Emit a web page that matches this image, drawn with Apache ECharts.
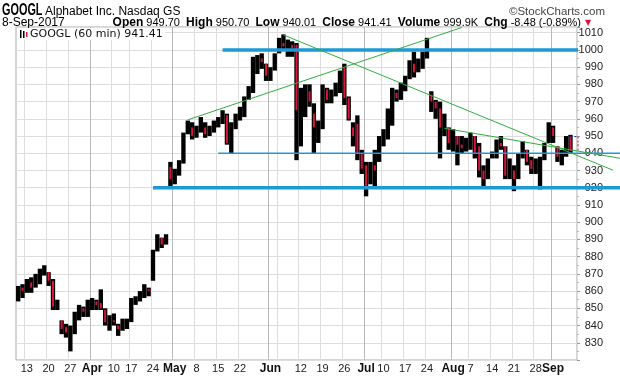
<!DOCTYPE html>
<html>
<head>
<meta charset="utf-8">
<script src="https://cdn.jsdelivr.net/npm/echarts@6/dist/echarts.min.js"></script>
<style>
html, body { margin: 0; padding: 0; background: #fff; }
#main { width: 620px; height: 376px; }
</style>
</head>
<body>
<div id="main"></div>
<script>
// trading days shown (one bar per day)
var dates = [
  '3/9','3/10','3/13','3/14','3/15','3/16','3/17','3/20','3/21','3/22','3/23','3/24','3/27','3/28','3/29','3/30','3/31',
  '4/3','4/4','4/5','4/6','4/7','4/10','4/11','4/12','4/13','4/17','4/18','4/19','4/20','4/21','4/24','4/25','4/26','4/27','4/28',
  '5/1','5/2','5/3','5/4','5/5','5/8','5/9','5/10','5/11','5/12','5/15','5/16','5/17','5/18','5/19','5/22','5/23','5/24','5/25','5/26','5/30','5/31',
  '6/1','6/2','6/5','6/6','6/7','6/8','6/9','6/12','6/13','6/14','6/15','6/16','6/19','6/20','6/21','6/22','6/23','6/26','6/27','6/28','6/29','6/30',
  '7/3','7/5','7/6','7/7','7/10','7/11','7/12','7/13','7/14','7/17','7/18','7/19','7/20','7/21','7/24','7/25','7/26','7/27','7/28','7/31',
  '8/1','8/2','8/3','8/4','8/7','8/8','8/9','8/10','8/11','8/14','8/15','8/16','8/17','8/18','8/21','8/22','8/23','8/24','8/25','8/28','8/29','8/30','8/31',
  '9/1','9/5','9/6','9/7','9/8'
];

var opens = [
  855, 862, 860, 865, 862, 868, 871, 871, 866, 851,
  843, 839, 834, 837, 846, 850, 848, 852, 854, 853,
  849, 842, 843, 840, 838, 840, 843, 855, 856, 858,
  861, 868, 883, 891, 887, 932, 925, 929, 934, 952,
  955, 950, 954, 955, 951, 954, 957, 959, 962, 945,
  955, 961, 965, 971, 978, 994, 995, 992, 985, 988,
  999, 1004, 1002, 1003, 1003, 950, 968, 976, 963, 955,
  957, 977, 971, 975, 978, 990, 972, 955, 957, 940,
  933, 922, 933, 935, 948, 952, 963, 975, 972, 979,
  983, 992, 987, 993, 996, 974, 970, 966, 952, 955,
  946, 950, 945, 943, 946, 950, 944, 930, 925, 937,
  940, 946, 944, 928, 930, 926, 938, 942, 936, 931,
  925, 936, 946, 955, 944, 938, 940, 949.70
];
var highs = [
  863, 864, 867, 868, 870, 873, 875, 871, 867, 855,
  843, 841, 840, 848, 852, 851, 855, 856, 855, 861,
  850, 846, 847, 841, 844, 844, 856, 857, 860, 864,
  862, 884, 893, 891, 893, 935, 931, 936, 952, 959,
  958, 956, 961, 958, 956, 959, 961, 965, 963, 958,
  963, 967, 973, 979, 996, 997, 998, 992, 990, 998,
  1007, 1009, 1006, 1005, 1004, 978, 980, 980, 969, 959,
  980, 978, 977, 981, 988, 992, 973, 958, 962, 942,
  935, 935, 942, 950, 954, 966, 978, 977, 981, 985,
  994, 999, 995, 999, 1007, 976, 971, 970, 963, 955,
  954, 950, 950, 949, 952, 950, 946, 933, 937, 941,
  948, 950, 944, 937, 933, 940, 947, 942, 938, 937,
  938, 946, 958, 956, 944, 942, 950, 950.70
];
var lows = [
  854, 856, 859, 859, 862, 864, 869, 863, 849, 849,
  835, 833, 825, 835, 843, 845, 845, 849, 849, 849,
  840, 837, 840, 834, 837, 838, 842, 852, 854, 856,
  857, 866, 883, 885, 887, 921, 922, 927, 934, 951,
  948, 949, 952, 949, 950, 952, 955, 957, 945, 940,
  954, 959, 961, 971, 975, 986, 989, 982, 982, 988,
  998, 1000, 996, 996, 936, 944, 961, 967, 940, 946,
  954, 969, 969, 973, 975, 968, 959, 944, 936, 928,
  915, 922, 921, 935, 944, 948, 956, 970, 971, 976,
  983, 984, 987, 989, 995, 964, 960, 937, 950, 942,
  941, 933, 940, 941, 942, 937, 926, 921, 925, 937,
  937, 942, 925, 925, 918, 925, 937, 933, 928, 928,
  919, 936, 946, 946, 935, 933, 938, 940.01
];
var closes = [
  861, 860, 865, 862, 868, 871, 872, 866, 851, 852,
  838, 836, 838, 846, 850, 848, 852, 853, 852, 850,
  842, 843, 842, 838, 840, 842, 855, 856, 858, 862,
  860, 882, 891, 887, 891, 925, 929, 934, 950, 955,
  950, 954, 955, 951, 954, 957, 959, 962, 946, 955,
  961, 965, 970, 978, 994, 995, 993, 985, 988, 997,
  1004, 1002, 1003, 1001, 965, 968, 976, 970, 955, 957,
  977, 971, 975, 978, 986, 972, 960, 950, 940, 931,
  920, 933, 930, 948, 952, 963, 975, 972, 979, 983,
  992, 987, 993, 996, 999, 970, 966, 955, 958, 946,
  950, 945, 943, 946, 950, 940, 930, 925, 935, 940,
  946, 944, 927, 930, 925, 938, 942, 935, 931, 933,
  936, 945, 955, 950, 938, 940, 949.89, 941.41
];
var lastVolume = '999.9K';

// x axis labels
var tickDates  = ['3/13','3/20','3/27','4/3','4/10','4/17','4/24','5/1','5/8','5/15','5/22','6/1','6/12','6/19','6/26','7/3','7/10','7/17','7/24','8/1','8/7','8/14','8/21','8/28','9/1'];
var tickLabels = ['13','20','27','Apr','10','17','24','May','8','15','22','Jun','12','19','26','Jul','10','17','24','Aug','7','14','21','28','Sep'];
var extraGridDates = ['6/5'];
var monthNames = ['Apr','May','Jun','Jul','Aug','Sep'];

// drawn annotations: [date, price]
var trendUp    = [['5/4', 959.4], ['8/3', 1013]];
var trendDown  = [['6/6', 1008.7], ['9/8', 940.3]];
var trendFlat  = [['7/28', 954.5], ['9/8', 942]];
var resistance = ['5/16', 1000];
var support    = ['4/24', 920];
var midLevel   = ['5/15', 940];

var tickMap = {};
tickDates.forEach(function (d, i) { tickMap[d] = tickLabels[i]; });
var gridSet = {};
var gridDates = tickDates.concat(extraGridDates).sort(function (a, b) { return dates.indexOf(a) - dates.indexOf(b); });
gridDates.forEach(function (d) { gridSet[d] = true; });
var gridColors = gridDates.map(function (d) {
  return monthNames.indexOf(tickMap[d]) >= 0 ? '#b9b9b9' : '#dedede';
});

var barData = dates.map(function (d, i) {
  return [i, opens[i], closes[i], lows[i], highs[i]];
});

var UP = '#000000', DOWN = '#dc143c', LINE_BLUE = '#1c9ad6', LINE_GREEN = '#2fae3f';

function renderBar(params, api) {
  var k = api.value(0), o = api.value(1), c = api.value(2), l = api.value(3), h = api.value(4);
  var top = api.coord([k, h]), bot = api.coord([k, l]);
  var band = api.size([1, 0])[0];
  var w = band;
  var kids = [{
    type: 'rect',
    shape: { x: top[0] - w / 2, y: top[1], width: w, height: Math.max(1, bot[1] - top[1]) },
    style: { fill: UP }
  }];
  if (c < o) {
    var po = api.coord([k, o]), pc = api.coord([k, c]);
    var rw = band * 0.45;
    kids.push({
      type: 'rect',
      shape: { x: po[0] - rw / 2, y: po[1], width: rw, height: Math.max(1, pc[1] - po[1]) },
      style: { fill: DOWN }
    });
  }
  return { type: 'group', children: kids };
}

var chart = echarts.init(document.getElementById('main'));

var option = {
  animation: false,
  grid: { left: 16, right: 43, top: 27, bottom: 16, show: true, borderColor: '#a8a8a8', borderWidth: 1 },
  xAxis: {
    type: 'category',
    data: dates.concat(['']),
    boundaryGap: true,
    axisLine: { show: false },
    axisTick: { show: false },
    axisLabel: {
      interval: function (i, v) { return tickMap[v] !== undefined; },
      formatter: function (v) {
        var t = tickMap[v];
        return monthNames.indexOf(t) >= 0 ? '{m|' + t + '}' : t;
      },
      margin: 3,
      color: '#222',
      fontSize: 11,
      fontFamily: 'Liberation Sans',
      rich: { m: { fontWeight: 'bold', fontSize: 12, fontFamily: 'Liberation Sans', color: '#111' } }
    },
    splitLine: {
      show: true,
      interval: function (i, v) { return !!gridSet[v]; },
      lineStyle: { color: gridColors, width: 1 }
    }
  },
  yAxis: {
    type: 'value',
    position: 'right',
    min: 820,
    max: 1013.3,
    interval: 10,
    axisLine: { show: false },
    axisTick: { show: true, length: 3, lineStyle: { color: '#999' } },
    minorTick: { show: true, splitNumber: 2, length: 2, lineStyle: { color: '#bbb' } },
    axisLabel: {
      showMinLabel: false,
      showMaxLabel: false,
      align: 'right',
      margin: 26,
      color: '#222',
      fontSize: 11,
      fontFamily: 'Liberation Sans',
      formatter: function (v) { return String(Math.round(v)); }
    },
    splitLine: { lineStyle: { color: '#dedede' } }
  },
  series: [{
    type: 'custom',
    renderItem: renderBar,
    encode: { x: 0, y: [1, 2, 3, 4] },
    data: barData,
    clip: true,
    z: 2
  }]
};
chart.setOption(option);

// ---- annotations and header, placed through the chart's own scales ----
function px(p) { return chart.convertToPixel({ gridIndex: 0 }, p); }
var plotRight = chart.getWidth() - 43;
var plotLeft = 16;
var W = chart.getWidth();

function segment(a, b, xEnd) {
  var p1 = px(a), p2 = px(b);
  if (xEnd != null) {
    var t = (xEnd - p1[0]) / (p2[0] - p1[0]);
    p2 = [xEnd, p1[1] + t * (p2[1] - p1[1])];
  }
  return { x1: p1[0], y1: p1[1], x2: p2[0], y2: p2[1] };
}
function hLine(start, xEnd, width) {
  var p = px(start);
  return {
    type: 'line', z: 100,
    shape: { x1: p[0], y1: p[1], x2: xEnd, y2: p[1] },
    style: { stroke: LINE_BLUE, lineWidth: width }
  };
}
function gLine(seg) {
  return { type: 'line', z: 101, shape: seg, style: { stroke: LINE_GREEN, lineWidth: 1 } };
}

var n = dates.length;
var lastO = opens[n - 1], lastH = highs[n - 1], lastL = lows[n - 1], lastC = closes[n - 1];
var prevC = closes[n - 2];
var chg = lastC - prevC;
var pct = chg / prevC * 100;
var pOpen = px([dates[n - 1], lastO]), pClose = px([dates[n - 1], lastC]);

var headerText =
  '{b|Open} ' + lastO.toFixed(2) + '  {b|High} ' + lastH.toFixed(2) +
  '  {b|Low} ' + lastL.toFixed(2) + '  {b|Close} ' + lastC.toFixed(2) +
  '  {b|Volume} ' + lastVolume + '  {b|Chg} ' + chg.toFixed(2) + ' (' + pct.toFixed(2) + '%)';

chart.setOption({
  graphic: [
    hLine(resistance, plotRight + 1, 3.5),
    hLine(support, W, 3.5),
    hLine(midLevel, W, 1.5),
    gLine(segment(trendUp[0], trendUp[1])),
    gLine(segment(trendDown[0], trendDown[1], 613)),
    gLine(segment(trendFlat[0], trendFlat[1], 620)),
    {
      type: 'line', z: 99,
      shape: { x1: pOpen[0], y1: pOpen[1], x2: plotRight, y2: pOpen[1] },
      style: { stroke: '#1030c0', lineWidth: 1, lineDash: [2, 2] }
    },
    {
      type: 'line', z: 99,
      shape: { x1: plotRight + 1, y1: pOpen[1], x2: plotRight + 1, y2: pClose[1] },
      style: { stroke: DOWN, lineWidth: 1, lineDash: [2, 2] }
    },
    // legend box
    {
      type: 'rect', z: 110,
      shape: { x: plotLeft + 1, y: 28, width: 148, height: 12 },
      style: { fill: '#fff' }
    },
    { type: 'rect', z: 111, shape: { x: 20, y: 30, width: 1.5, height: 8 }, style: { fill: '#000' } },
    { type: 'rect', z: 111, shape: { x: 23, y: 31, width: 1.5, height: 7 }, style: { fill: '#000' } },
    { type: 'rect', z: 111, shape: { x: 26, y: 32, width: 1.5, height: 5 }, style: { fill: DOWN } },
    {
      type: 'text', z: 111, x: 30, y: 34.5,
      style: { text: 'GOOGL (60 min) ' + lastC.toFixed(2), font: '11px DejaVu Sans', fill: '#111', textVerticalAlign: 'middle' }
    },
    // header
    {
      type: 'text', x: 2, y: 10.5, scaleX: 0.68,
      style: { text: 'GOOGL', font: 'bold 16px Liberation Sans', fill: '#000', textVerticalAlign: 'middle' }
    },
    {
      type: 'text', x: 45, y: 12,
      style: { text: 'Alphabet Inc. Nasdaq GS', font: '12px Liberation Sans', fill: '#000', textVerticalAlign: 'middle' }
    },
    {
      type: 'text', x: 605, y: 12,
      style: { text: '\u00a9StockCharts.com', font: '11.5px Liberation Sans', fill: '#444', textAlign: 'right', textVerticalAlign: 'middle' }
    },
    {
      type: 'text', x: 2, y: 22.5,
      style: { text: '8-Sep-2017', font: '12px Liberation Sans', fill: '#000', textVerticalAlign: 'middle' }
    },
    {
      type: 'text', x: 581, y: 22.5,
      style: {
        text: headerText,
        font: '11px Liberation Sans',
        fill: '#000',
        textAlign: 'right',
        textVerticalAlign: 'middle',
        rich: { b: { fontWeight: 'bold', fontSize: 12, fontFamily: 'Liberation Sans', fill: '#000' } }
      }
    },
    {
      type: 'text', x: 588, y: 22.5,
      style: { text: '\u25bc', font: '8px DejaVu Sans', fill: DOWN, textAlign: 'center', textVerticalAlign: 'middle' }
    }
  ]
});
</script>
</body>
</html>
